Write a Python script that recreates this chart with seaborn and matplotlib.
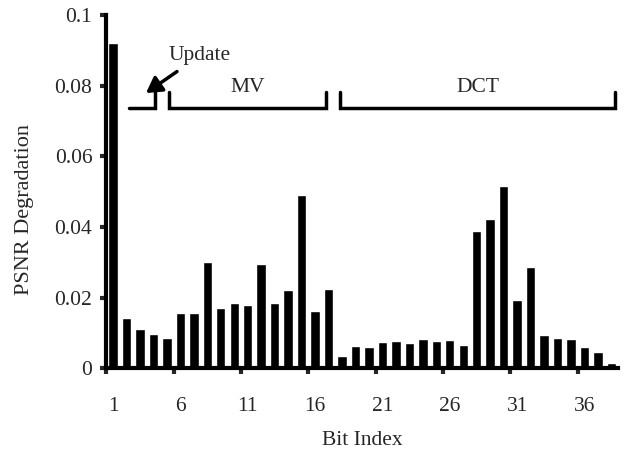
import numpy as np
import pandas as pd
import matplotlib
matplotlib.use("Agg")
import matplotlib.pyplot as plt
import seaborn as sns

# bit index 1..38 and PSNR degradation
bit_index = list(range(1, 39))
degradation = [
    0.0921, 0.0142, 0.0111, 0.0096, 0.0085, 0.0156, 0.0156, 0.0302, 0.0170, 0.0184,
    0.0178, 0.0295, 0.0184, 0.0222, 0.0489, 0.0161, 0.0224, 0.0035, 0.0064, 0.0059,
    0.0074, 0.0076, 0.0071, 0.0083, 0.0076, 0.0080, 0.0066, 0.0389, 0.0422, 0.0517,
    0.0192, 0.0286, 0.0094, 0.0085, 0.0082, 0.0061, 0.0045, 0.0016,
]
tick_labels = [1, 6, 11, 16, 21, 26, 31, 36]
y_ticks = [0, 0.02, 0.04, 0.06, 0.08, 0.1]
y_tick_labels = ["0", "0.02", "0.04", "0.06", "0.08", "0.1"]

# group brackets: (label, start, end)
groups = [("MV", 5.15, 16.8), ("DCT", 17.85, 38.3)]

df = pd.DataFrame({"bit": bit_index, "psnr": degradation})

sns.set_style("ticks")
plt.rcParams["font.family"] = ["Liberation Serif", "DejaVu Serif"]

fig = plt.figure(figsize=(6.25, 4.54), dpi=100)
ax = fig.add_axes([0.17, 0.189, 0.819, 0.778])

sns.barplot(data=df, x="bit", y="psnr", color="black", native_scale=True,
            width=0.7, saturation=1, ax=ax)

ax.set_xlim(0.55, 38.5)
ax.set_ylim(0, 0.1)

ax.set_yticks(y_ticks)
ax.set_yticklabels(y_tick_labels, fontsize=15.5)
ax.set_xticks(tick_labels)
ax.set_xticklabels([str(t) for t in tick_labels], fontsize=15.5)
ax.set_xticks([t - 0.5 for t in tick_labels], minor=True)
ax.tick_params(axis="x", which="major", length=0, pad=21)
ax.tick_params(axis="x", which="minor", length=4, width=3, direction="out")
ax.tick_params(axis="y", length=4, width=3, direction="out", pad=6)

for side in ["top", "right"]:
    ax.spines[side].set_visible(False)
for side in ["left", "bottom"]:
    ax.spines[side].set_linewidth(3)
    ax.spines[side].set_color("black")

ax.set_xlabel("Bit Index", fontsize=15.5)
ax.set_ylabel("PSNR Degradation", fontsize=16)
ax.xaxis.set_label_coords(0.5, -0.178)
ax.yaxis.set_label_coords(-0.142, 0.45)

# brackets
base, top = 0.0737, 0.0782
for name, x0, x1 in groups:
    ax.plot([x0, x0, x1, x1], [top, base, base, top], color="black", lw=2.5,
            solid_joinstyle="miter", clip_on=False)
    ax.text((x0 + x1) / 2, 0.0796, name, ha="center", va="center", fontsize=15.5)

# update bracket (only right upright)
ax.plot([2.2, 4.1, 4.1], [base, base, top], color="black", lw=2.5,
        solid_joinstyle="miter", clip_on=False)
ax.annotate("Update", xy=(3.45, 0.0779), xytext=(5.15, 0.0885),
            fontsize=15.5, ha="left", va="center",
            arrowprops=dict(arrowstyle="-|>,head_length=0.6,head_width=0.35",
                            color="black", lw=2.5, shrinkA=4, shrinkB=0))

fig.savefig("out.png", dpi=100)
